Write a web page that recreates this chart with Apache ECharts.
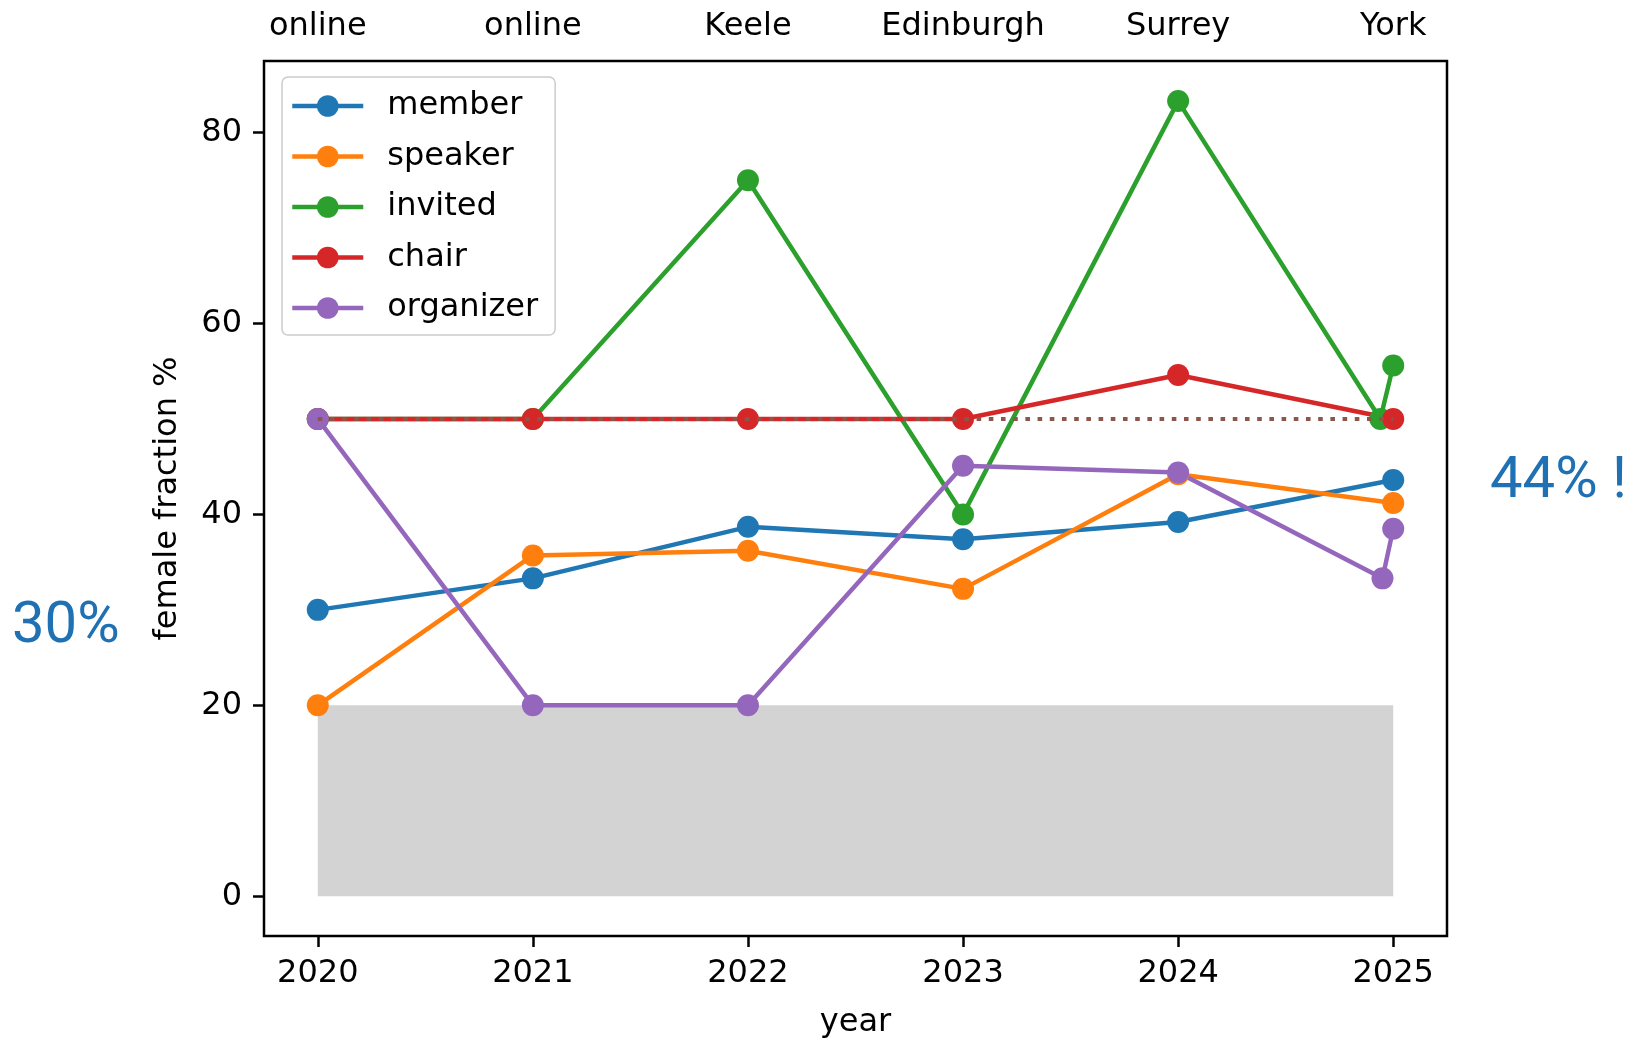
<!DOCTYPE html>
<html><head><meta charset="utf-8">
<script src="https://cdn.jsdelivr.net/npm/echarts@6/dist/echarts.min.js"></script>
<style>html,body{margin:0;padding:0;background:#fff}#c{width:1648px;height:1044px}</style>
</head><body><div id="c"></div>
<script>
// ---- data ----
const years = [2020, 2021, 2022, 2023, 2024, 2025];
const venues = ['online', 'online', 'Keele', 'Edinburgh', 'Surrey', 'York'];
const yTicks = [0, 20, 40, 60, 80];

const memberX = [2020, 2021, 2022, 2023, 2024, 2025];
const memberY = [30.0, 33.3, 38.7, 37.4, 39.2, 43.6];
const speakerX = [2020, 2021, 2022, 2023, 2024, 2025];
const speakerY = [20.0, 35.7, 36.2, 32.2, 44.2, 41.2];
const invitedX = [2020, 2021, 2022, 2023, 2024, 2024.94, 2025];
const invitedY = [50.0, 50.0, 75.0, 40.0, 83.3, 50.0, 55.6];
const chairX = [2020, 2021, 2022, 2023, 2024, 2025];
const chairY = [50.0, 50.0, 50.0, 50.0, 54.6, 50.0];
const organizerX = [2020, 2021, 2022, 2023, 2024, 2024.95, 2025];
const organizerY = [50.0, 20.0, 20.0, 45.1, 44.4, 33.3, 38.5];
const parityX = [2020, 2025];
const parityY = [50, 50];
const bandX = [2020, 2025];
const bandY = [0, 20];
const noteLeft = '30%';
const noteRight = '44% !';

// ---- helpers ----
const zip = (xs, ys) => xs.map((x, i) => [x, ys[i]]);
const FONT = 'DejaVu Sans';
const FS = 32;
const venueOf = v => { const i = years.indexOf(Math.round(v)); return i >= 0 ? venues[i] : ''; };

const mk = (name, xs, ys, color) => ({
  name, type: 'line', data: zip(xs, ys), z: 3,
  symbol: 'circle', symbolSize: 22, showAllSymbol: true,
  lineStyle: { color, width: 4.5 }, itemStyle: { color },
  emphasis: { disabled: true }
});

const chart = echarts.init(document.getElementById('c'), null, { renderer: 'canvas' });
chart.setOption({
  animation: false,
  backgroundColor: '#ffffff',
  grid: { left: 264, right: 201, top: 61, bottom: 102, show: true, borderColor: '#000', borderWidth: 2.5, backgroundColor: 'transparent' },
  legend: {
    data: ['member', 'speaker', 'invited', 'chair', 'organizer'],
    orient: 'vertical', left: 282, top: 77,
    itemWidth: 71, itemHeight: 27, itemGap: 18.5,
    padding: [13, 17, 11, 8],
    backgroundColor: 'rgba(255,255,255,0.8)', borderColor: '#cccccc', borderWidth: 1.5, borderRadius: 6,
    selectedMode: false,
    lineStyle: { width: 4.5 },
    textStyle: { fontFamily: FONT, fontSize: FS, color: '#000', padding: [0, 0, 0, 19], lineHeight: 27 }
  },
  xAxis: [{
    type: 'value', min: 2019.75, max: 2025.25, position: 'bottom',
    name: 'year', nameLocation: 'middle', nameGap: 71,
    nameTextStyle: { fontFamily: FONT, fontSize: FS, color: '#000' },
    axisLine: { show: false, onZero: false }, splitLine: { show: false },
    axisTick: { show: true, length: 11, customValues: years, lineStyle: { color: '#000', width: 2.5 } },
    axisLabel: { customValues: years, margin: 22, fontFamily: FONT, fontSize: FS, color: '#000', formatter: v => String(Math.round(v)) }
  }, {
    type: 'value', min: 2019.75, max: 2025.25, position: 'top',
    axisLine: { show: false, onZero: false }, splitLine: { show: false },
    axisTick: { show: false },
    axisLabel: { customValues: years, margin: 18, fontFamily: FONT, fontSize: FS, color: '#000', formatter: v => venueOf(v) }
  }],
  yAxis: {
    type: 'value', min: -4.1667, max: 87.5,
    name: 'female fraction %', nameLocation: 'middle', nameGap: 80,
    nameTextStyle: { fontFamily: FONT, fontSize: FS, color: '#000' },
    axisLine: { show: false, onZero: false }, splitLine: { show: false },
    axisTick: { show: true, length: 11, customValues: yTicks, lineStyle: { color: '#000', width: 2.5 } },
    axisLabel: { customValues: yTicks, margin: 22, fontFamily: FONT, fontSize: FS, color: '#000' }
  },
  series: [
    {
      name: 'band', type: 'line', data: zip(bandX, [bandY[1], bandY[1]]), z: 1,
      showSymbol: false, symbol: 'none', lineStyle: { width: 0, opacity: 0 }, silent: true,
      markArea: { silent: true, itemStyle: { color: '#d3d3d3', opacity: 1 },
        data: [[{ coord: [bandX[0], bandY[0]] }, { coord: [bandX[1], bandY[1]] }]] }
    },
    mk('member', memberX, memberY, '#1f77b4'),
    mk('speaker', speakerX, speakerY, '#ff7f0e'),
    mk('invited', invitedX, invitedY, '#2ca02c'),
    mk('chair', chairX, chairY, '#d62728'),
    mk('organizer', organizerX, organizerY, '#9467bd'),
    {
      name: 'parity', type: 'line', data: zip(parityX, parityY), z: 4,
      symbol: 'none', silent: true,
      lineStyle: { color: '#8c564b', width: 4, type: [4.6, 7.6], cap: 'butt' }
    }
  ],
  graphic: [
    { type: 'text', left: 12, top: 598, style: { text: noteLeft, fontFamily: 'Roboto', fontSize: 58, fill: '#1f71b4' } },
    { type: 'text', left: 1490, top: 453, style: { text: noteRight, fontFamily: 'Roboto', fontSize: 58, fill: '#1f71b4' } }
  ]
});
</script></body></html>
